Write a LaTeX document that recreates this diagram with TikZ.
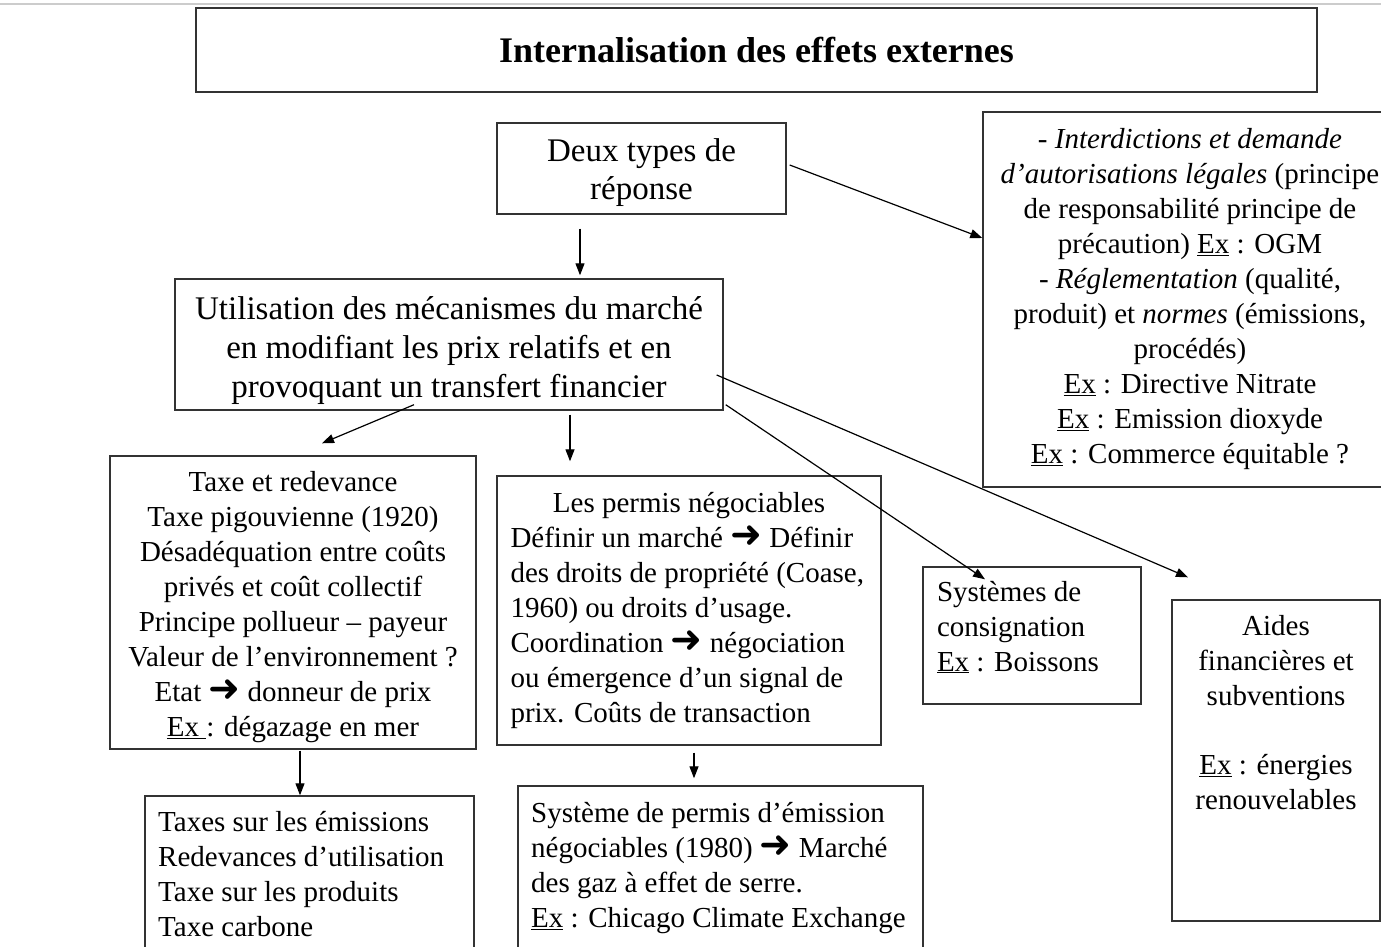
\documentclass[tikz,border=0pt]{standalone}
\usepackage{fontspec}
\setmainfont{Liberation Serif}
\newfontfamily\symbfont{DejaVu Sans}
\usepackage{tikz}
\usetikzlibrary{arrows.meta}
\newcommand{\flch}{{\symbfont\bfseries\fontsize{38}{35}\selectfont ➜}}

\begin{document}
\begin{tikzpicture}[x=1pt,y=-1pt,
  boite/.style={draw=black!80, line width=1.4pt, inner sep=0pt, align=center, font=\fontsize{29}{35}\selectfont},
  texte/.style={inner sep=0pt, font=\fontsize{29}{35}\selectfont},
  fleche/.style={-{Triangle[length=12pt,width=9pt]}, line width=1.2pt}]
  \useasboundingbox (0,0) rectangle (1381,947);
  \fill[white] (0,0) rectangle (1381,947);
  \clip (0,0) rectangle (1381,947);
  \draw[black!20, line width=2.5pt] (0,4) -- (1381,4);

  % titre et premier niveau
  \node[boite, minimum width=1121, minimum height=84, font=\bfseries\fontsize{36}{40}\selectfont] (titre) at (756.5,50) {Internalisation des effets externes};
  \node[boite, minimum width=289, minimum height=91, font=\fontsize{33}{38}\selectfont] (deux) at (641.5,168.5) {\rule{0pt}{32pt}Deux types de\\réponse};
  \node[boite, minimum width=414, minimum height=375] (regl) at (1190,299.5) {- \textit{Interdictions et demande}\\\textit{d’autorisations légales} (principe\\de responsabilité principe de\\précaution) \underline{Ex} : OGM\\- \textit{Réglementation} (qualité,\\produit) et \textit{normes} (émissions,\\procédés)\\\underline{Ex} : Directive Nitrate\\\underline{Ex} : Emission dioxyde\\\underline{Ex} : Commerce équitable ?};
  \node[boite, minimum width=548, minimum height=131, font=\fontsize{33}{39}\selectfont] (marche) at (449,344.5) {\rule{0pt}{36pt}Utilisation des mécanismes du marché\\en modifiant les prix relatifs et en\\provoquant un transfert financier};

  % instruments
  \node[boite, minimum width=366, minimum height=293] (taxe) at (293,602.5) {\rule{0pt}{29pt}Taxe et redevance\\Taxe pigouvienne (1920)\\Désadéquation entre coûts\\privés et coût collectif\\Principe pollueur – payeur\\Valeur de l’environnement ?\\Etat \flch{} donneur de prix\\\underline{Ex\ }: dégazage en mer};
  \node[boite, minimum width=384, minimum height=269, align=left] (permis) at (689,610.5) {\makebox[357pt][c]{Les permis négociables}\\Définir un marché \flch{} Définir\\des droits de propriété (Coase,\\1960) ou droits d’usage.\\Coordination \flch{} négociation\\ou émergence d’un signal de\\prix. Coûts de transaction};
  \node[boite, minimum width=218, minimum height=137, text width=190, align=flush left] (consigne) at (1032,635.5) {Systèmes de\\consignation\\\underline{Ex} : Boissons\rule[-19pt]{0pt}{0pt}};
  \node[boite, minimum width=208, minimum height=321] (aides) at (1276,760.5) {};
  \node[texte, align=center, anchor=north] (aidestxt) at (1276,615) {Aides\\financières et\\subventions\\[34pt]\underline{Ex} : énergies\\renouvelables};

  % exemples
  \node[boite, minimum width=329, minimum height=204] (taxesur) at (309.5,898) {};
  \node[texte, align=left, anchor=north west] (taxesurtxt) at (158,811) {Taxes sur les émissions\\Redevances d’utilisation\\Taxe sur les produits\\Taxe carbone};
  \node[boite, minimum width=405, minimum height=214] (systeme) at (720.5,893) {};
  \node[texte, align=left, anchor=north west] (systemetxt) at (531,802) {Système de permis d’émission\\négociables (1980) \flch{} Marché\\des gaz à effet de serre.\\\underline{Ex} : Chicago Climate Exchange};

  \draw[fleche, shorten <=14pt, shorten >=3pt] ([xshift=-61.5pt]deux.south) -- ([xshift=-61.5pt]deux.south |- marche.north);
  \draw[fleche] ([xshift=3pt,yshift=3.5pt]deux.east) -- ([yshift=61.5pt]regl.west);
  \draw[fleche] ([xshift=-35pt,yshift=6pt]marche.south) -- ([xshift=29pt,yshift=12pt]taxe.north);
  \draw[fleche, shorten <=4pt, shorten >=14pt] ([xshift=121pt]marche.south) -- ([xshift=121pt]marche.south |- permis.north);
  \draw[fleche] ([xshift=2pt,yshift=6pt]marche.south east) -- ([xshift=-47pt,yshift=-13pt]consigne.north);
  \draw[fleche] ([xshift=-7pt,yshift=-30.5pt]marche.east) -- ([xshift=-88pt,yshift=22pt]aides.north);
  \draw[fleche, shorten <=1pt] ([xshift=7pt]taxe.south) -- ([xshift=7pt]taxe.south |- taxesur.north);
  \draw[fleche, shorten <=7pt, shorten >=7pt] ([xshift=5pt]permis.south) -- ([xshift=5pt]permis.south |- systeme.north);
\end{tikzpicture}
\end{document}
